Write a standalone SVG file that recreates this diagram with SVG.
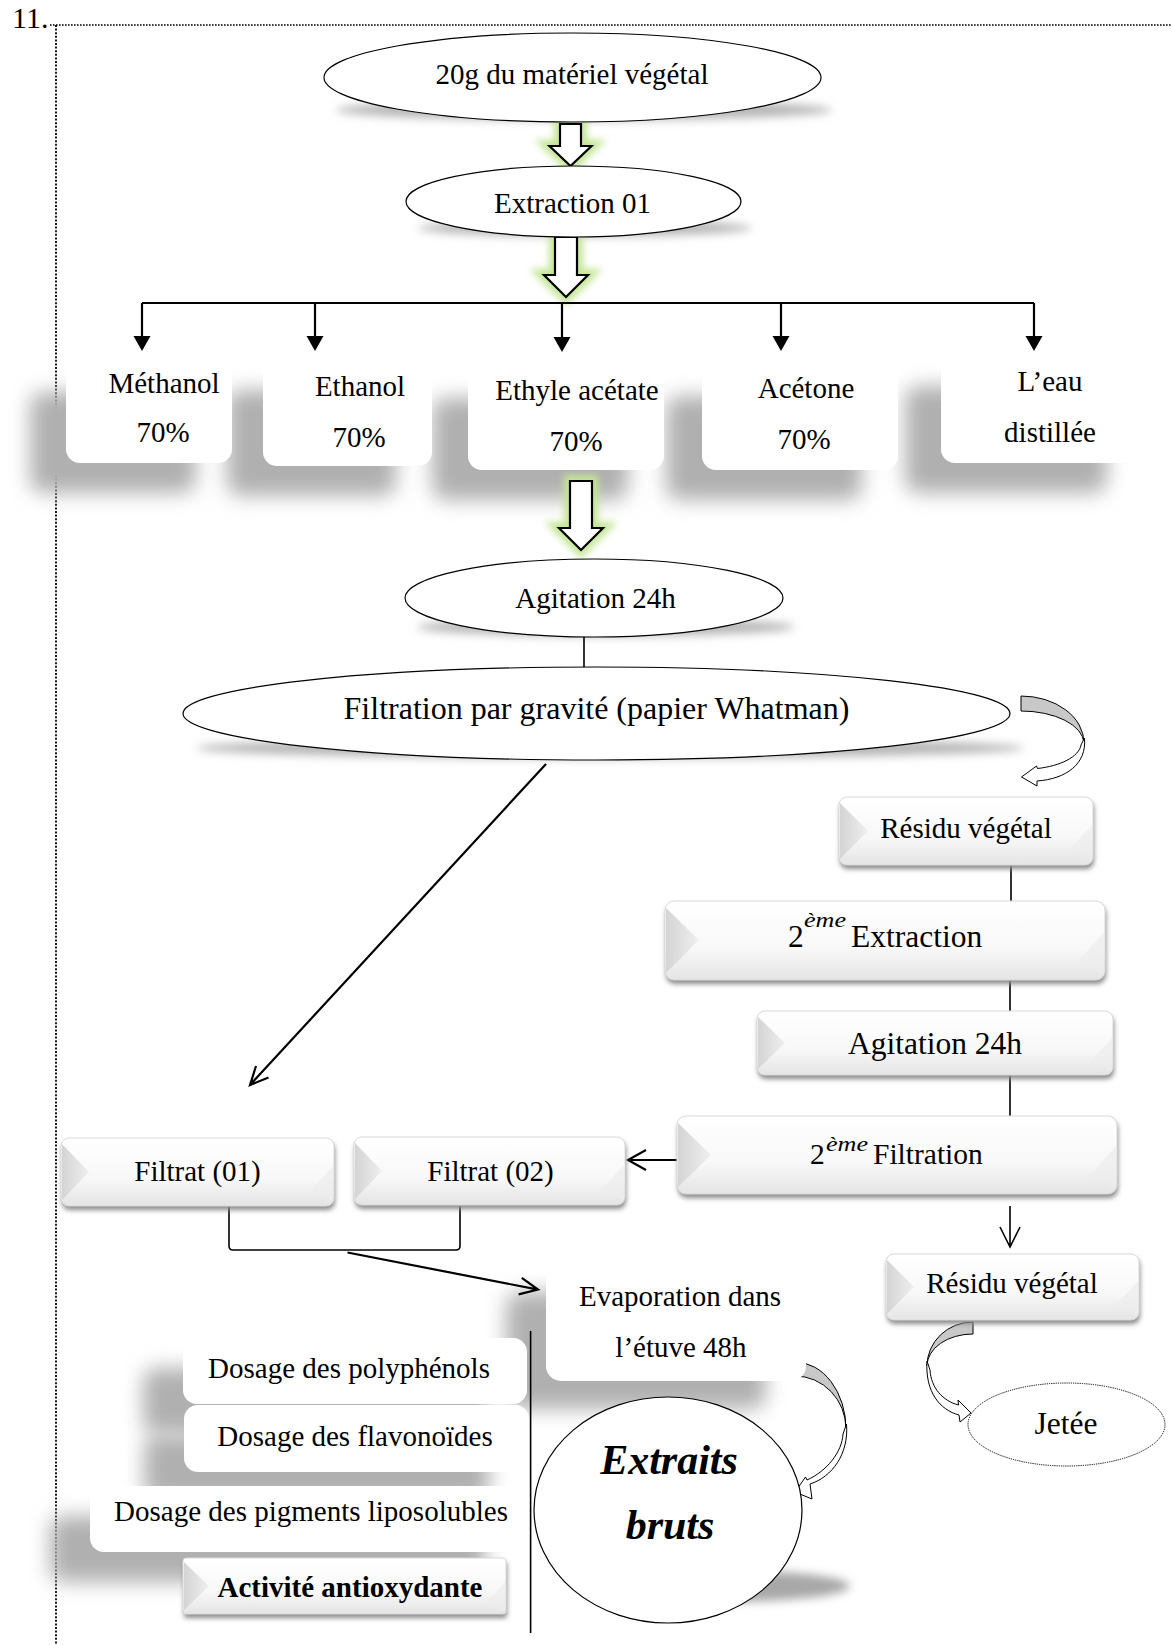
<svg xmlns="http://www.w3.org/2000/svg" width="1172" height="1645" viewBox="0 0 1172 1645">
<defs>
<style>
.t{font-family:"Liberation Serif","Times New Roman",serif;font-size:29px;fill:#000;text-anchor:middle}
.tl{font-family:"Liberation Serif","Times New Roman",serif;fill:#000}
.el{fill:#fff;stroke:#000;stroke-width:1.2}
.elsh{fill:#b4b4b4;filter:url(#fEll)}
.wbox{fill:#fff}
.bigsh{fill:#b0b0b0;filter:url(#fBig)}
.bvsh{fill:#8a8a8a;filter:url(#fSmall)}
.bv{fill:url(#gBevel);stroke:#dadada;stroke-width:1}
.wedgeL{fill:url(#gWedge)}
.wedgeR{fill:#ececec;opacity:.7}
.ln{stroke:#000;fill:none;stroke-width:1.6}
.lnb{stroke:#000;fill:none;stroke-width:2.2}
.blk{fill:#fff;stroke:#000;stroke-width:2.2;stroke-linejoin:miter}
.glow{fill:none;stroke:#c4e596;stroke-width:12;filter:url(#fGlow)}
.curvG{fill:#c8c8c8;stroke:#000;stroke-width:1}
.curvW{fill:#fff;stroke:#000;stroke-width:1}
.sup{font-size:22px;font-style:italic}
.script{font-family:"Liberation Serif","Times New Roman",serif;font-style:italic;font-weight:bold;font-size:42px;fill:#000;text-anchor:middle}
</style>
<filter id="fBig" x="-50%" y="-50%" width="200%" height="200%"><feGaussianBlur stdDeviation="10"/></filter>
<filter id="fEll" x="-20%" y="-200%" width="140%" height="500%"><feGaussianBlur stdDeviation="5"/></filter>
<filter id="fSmall" x="-20%" y="-50%" width="140%" height="200%"><feGaussianBlur stdDeviation="2.5"/></filter>
<filter id="fGlow" x="-100%" y="-50%" width="300%" height="200%"><feGaussianBlur stdDeviation="3.5"/></filter>
<linearGradient id="gBevel" x1="0" y1="0" x2="0" y2="1">
<stop offset="0" stop-color="#ffffff"/><stop offset="0.6" stop-color="#f8f8f8"/><stop offset="1" stop-color="#e4e4e4"/>
</linearGradient>
<linearGradient id="gWedge" x1="0" y1="0" x2="1" y2="0">
<stop offset="0" stop-color="#d4d4d4"/><stop offset="1" stop-color="#efefef"/>
</linearGradient>
</defs>

<rect width="1172" height="1645" fill="#fff"/>

<g id="frame">
<text class="tl" x="12" y="28" style="font-size:30px">11.</text>
<path d="M50,25 H1172" stroke="#000" stroke-width="1.6" stroke-dasharray="1.6 1.4"/>
<path d="M56,25 V1645" stroke="#000" stroke-width="1.8" stroke-dasharray="2 1.6"/>
</g>

<g id="shadows">
<ellipse class="elsh" cx="584" cy="110" rx="248" ry="10"/>
<ellipse class="elsh" cx="585" cy="228" rx="167" ry="8"/>
<ellipse class="elsh" cx="606" cy="627" rx="189" ry="9"/>
<ellipse class="elsh" cx="610" cy="748" rx="414" ry="10"/>
<rect class="bigsh" x="30" y="392" width="166" height="101" rx="14"/>
<rect class="bigsh" x="227" y="390" width="169" height="106" rx="14"/>
<rect class="bigsh" x="432" y="398" width="196" height="102" rx="14"/>
<rect class="bigsh" x="666" y="396" width="196" height="104" rx="14"/>
<rect class="bigsh" x="905" y="386" width="202" height="107" rx="14"/>
<rect class="bigsh" x="506" y="1292" width="260" height="117" rx="15"/>
<rect class="bigsh" x="143" y="1368" width="344" height="66" rx="14"/>
<rect class="bigsh" x="144" y="1435" width="345" height="67" rx="14"/>
<rect class="bigsh" x="50" y="1516" width="435" height="66" rx="14"/>
<ellipse cx="722" cy="1586" rx="128" ry="16" fill="#a8a8a8" filter="url(#fEll)"/>
</g>

<g id="connectors">
<path class="glow" d="M560,124 H581 V146 H591.5 L570.5,166 L549.5,146 H560 Z"/>
<path class="blk" d="M560,124 H581 V146 H591.5 L570.5,166 L549.5,146 H560 Z"/>
<path class="glow" d="M555,237 H577 V275 H588 L566,297 L544,275 H555 Z"/>
<path class="blk" d="M555,237 H577 V275 H588 L566,297 L544,275 H555 Z"/>
<path class="glow" d="M570,481 H592 V528 H603 L581,550 L559,528 H570 Z"/>
<path class="blk" d="M570,481 H592 V528 H603 L581,550 L559,528 H570 Z"/>

<path class="lnb" d="M142,303 H1034 M142,303 V337 M315,303 V337 M562,303 V337 M781,303 V337 M1034,303 V337"/>
<path d="M133.5,336 H150.5 L142,351 Z M306.5,336 H323.5 L315,351 Z M553.5,337 H570.5 L562,352 Z M772.5,336 H789.5 L781,351 Z M1025.5,336 H1042.5 L1034,351 Z" fill="#000"/>

<path class="ln" d="M584,637 V667"/>
<path class="lnb" d="M546,764 L250,1085 M268.5,1077.4 L250,1085 L256,1066"/>

<path class="curvG" d="M1021,696 A63,47 0 0 1 1084,743 A63,33 0 0 0 1021,711 Z"/>
<path class="curvW" d="M1084.5,738 C1087,764 1066,779 1037,781 L1037,786 L1021.5,777 L1036.5,766 L1037.5,768.5 C1060,766 1079,757 1081,745 Z"/>

<path class="ln" d="M1011,865 V901 M1010,980 V1011 M1010,1075 V1116"/>
<path class="lnb" d="M677,1160 H628 M646,1150 L628,1160 L646,1170"/>
<path class="ln" d="M1010,1206 V1246 M1000,1227 L1010,1247 L1020,1227"/>

<path class="ln" d="M229,1206 V1246 Q229,1250 233,1250 H456 Q460,1250 460,1246 V1206"/>
<path class="lnb" d="M347.5,1252.5 L537,1289.4 M521.8,1277.8 L538,1289.6 L518.6,1294.4"/>

<path class="curvG" d="M795,1362 A51,67 0 0 1 846,1429 A51,53 0 0 0 795,1376 Z"/>
<path class="curvW" d="M846.5,1424 C849,1454 832,1477 810,1484 L812,1499 L795,1492 L805.5,1477 L807,1480 C827,1471 842,1452 843,1434 Z"/>

<path class="curvG" d="M973,1322 A46,44 0 0 0 927,1366 A46,32 0 0 1 973,1334 Z"/>
<path class="curvW" d="M927,1361 C925,1392 940,1410 959,1415 L960,1422 L971,1413 L958,1400 L958.5,1405 C943,1401 931,1388 930,1370 Z"/>

<path class="ln" d="M530.6,1331 V1633"/>
</g>

<g id="n-materiel">
<ellipse class="el" cx="572.5" cy="77.5" rx="248.5" ry="44.5"/>
<text class="t" x="572" y="84">20g du matériel végétal</text>
</g>
<g id="n-extraction01">
<ellipse class="el" cx="573.5" cy="201.5" rx="167.5" ry="35.5"/>
<text class="t" x="572.5" y="212.5">Extraction 01</text>
</g>

<g id="n-methanol">
<rect class="wbox" x="66" y="362" width="166" height="101" rx="14"/>
<text class="t" x="164" y="393">Méthanol</text>
<text class="t" x="163" y="442">70%</text>
</g>
<g id="n-ethanol">
<rect class="wbox" x="263" y="360" width="169" height="106" rx="14"/>
<text class="t" x="360" y="396">Ethanol</text>
<text class="t" x="359" y="447">70%</text>
</g>
<g id="n-ethyle">
<rect class="wbox" x="468" y="368" width="196" height="102" rx="14"/>
<text class="t" x="577" y="400">Ethyle acétate</text>
<text class="t" x="576" y="451">70%</text>
</g>
<g id="n-acetone">
<rect class="wbox" x="702" y="366" width="196" height="104" rx="14"/>
<text class="t" x="806" y="398">Acétone</text>
<text class="t" x="804" y="449">70%</text>
</g>
<g id="n-eau">
<rect class="wbox" x="941" y="356" width="202" height="107" rx="14"/>
<text class="t" x="1050" y="391">L’eau</text>
<text class="t" x="1050" y="442">distillée</text>
</g>

<g id="n-agitation1">
<ellipse class="el" cx="594" cy="598" rx="189" ry="39"/>
<text class="t" x="595.5" y="608">Agitation 24h</text>
</g>
<g id="n-filtration">
<ellipse class="el" cx="596.5" cy="713.5" rx="413.5" ry="46.5"/>
<text class="t" x="596.5" y="719" style="font-size:32px">Filtration par gravité (papier Whatman)</text>
</g>

<g id="n-residu1">
<rect class="bvsh" x="840" y="801" width="254" height="68" rx="8"/>
<rect class="bv" x="839" y="797" width="254" height="68" rx="8"/>
<path class="wedgeL" d="M840,803 L868,831 L840,859 Z"/>
<path class="wedgeR" d="M1092,825 L1070,849 L1092,860 Z"/>
<text class="t" x="966" y="838">Résidu végétal</text>
</g>
<g id="n-extraction2">
<rect class="bvsh" x="666" y="905" width="440" height="79" rx="9"/>
<rect class="bv" x="665" y="901" width="440" height="79" rx="9"/>
<path class="wedgeL" d="M666,908 L699,940 L666,973 Z"/>
<path class="wedgeR" d="M1104,932 L1078,962 L1104,975 Z"/>
<text class="tl" style="font-size:31.5px"><tspan x="788" y="946.5">2</tspan><tspan class="sup" x="804" y="927" textLength="42" lengthAdjust="spacingAndGlyphs">ème</tspan><tspan x="851" y="946.5">Extraction</tspan></text>
</g>
<g id="n-agitation2">
<rect class="bvsh" x="758" y="1015" width="356" height="64" rx="8"/>
<rect class="bv" x="757" y="1011" width="356" height="64" rx="8"/>
<path class="wedgeL" d="M758,1017 L785,1043 L758,1069 Z"/>
<path class="wedgeR" d="M1112,1038 L1090,1062 L1112,1071 Z"/>
<text class="t" x="935" y="1054" style="font-size:31.5px">Agitation 24h</text>
</g>
<g id="n-filtration2">
<rect class="bvsh" x="678" y="1120" width="440" height="78" rx="9"/>
<rect class="bv" x="677" y="1116" width="440" height="78" rx="9"/>
<path class="wedgeL" d="M678,1123 L711,1155 L678,1187 Z"/>
<path class="wedgeR" d="M1116,1146 L1090,1176 L1116,1189 Z"/>
<text class="tl" style="font-size:29.5px"><tspan x="810" y="1164">2</tspan><tspan class="sup" x="826" y="1151" textLength="42" lengthAdjust="spacingAndGlyphs">ème</tspan><tspan x="873" y="1164">Filtration</tspan></text>
</g>
<g id="n-filtrat01">
<rect class="bvsh" x="62" y="1142" width="273" height="68" rx="8"/>
<rect class="bv" x="61" y="1138" width="273" height="68" rx="8"/>
<path class="wedgeL" d="M62,1144 L89,1172 L62,1200 Z"/>
<path class="wedgeR" d="M333,1166 L311,1190 L333,1201 Z"/>
<text class="t" x="197.5" y="1181">Filtrat (01)</text>
</g>
<g id="n-filtrat02">
<rect class="bvsh" x="355" y="1141" width="271" height="68" rx="8"/>
<rect class="bv" x="354" y="1137" width="271" height="68" rx="8"/>
<path class="wedgeL" d="M355,1143 L382,1171 L355,1199 Z"/>
<path class="wedgeR" d="M624,1165 L602,1189 L624,1200 Z"/>
<text class="t" x="490.5" y="1181">Filtrat (02)</text>
</g>
<g id="n-residu2">
<rect class="bvsh" x="887" y="1258" width="253" height="66" rx="8"/>
<rect class="bv" x="886" y="1254" width="253" height="66" rx="8"/>
<path class="wedgeL" d="M887,1260 L914,1287 L887,1314 Z"/>
<path class="wedgeR" d="M1138,1281 L1116,1305 L1138,1315 Z"/>
<text class="t" x="1012" y="1293">Résidu végétal</text>
</g>

<g id="n-evaporation">
<rect class="wbox" x="546" y="1264" width="260" height="117" rx="15"/>
<text class="t" x="680" y="1306">Evaporation dans</text>
<text class="t" x="681" y="1357">l’étuve 48h</text>
</g>

<g id="n-polyphenols">
<rect class="wbox" x="183" y="1338" width="344" height="66" rx="14"/>
<text class="t" x="349" y="1378">Dosage des polyphénols</text>
</g>
<g id="n-flavonoides">
<rect class="wbox" x="184" y="1405" width="345" height="67" rx="14"/>
<text class="t" x="355" y="1445.5">Dosage des flavonoïdes</text>
</g>
<g id="n-pigments">
<rect class="wbox" x="90" y="1486" width="435" height="66" rx="14"/>
<text class="t" x="311" y="1521">Dosage des pigments liposolubles</text>
</g>
<g id="n-activite">
<rect class="bvsh" x="184" y="1562" width="323" height="56" rx="3"/>
<rect class="bv" x="183" y="1558" width="323" height="56" rx="3"/>
<path class="wedgeL" d="M184,1562 L209,1586 L184,1610 Z"/>
<path class="wedgeR" d="M505,1582 L485,1604 L505,1611 Z"/>
<text class="t" x="350" y="1597" style="font-weight:bold">Activité antioxydante</text>
</g>

<g id="n-extraits">
<ellipse class="el" cx="668" cy="1510" rx="134" ry="113"/>
<text class="script" x="669" y="1474">Extraits</text>
<text class="script" x="670" y="1539">bruts</text>
</g>

<g id="n-jetee">
<ellipse cx="1066.5" cy="1424.5" rx="98.5" ry="41.5" fill="#fff" stroke="#000" stroke-width="1" stroke-dasharray="1.2 1"/>
<text class="t" x="1066" y="1434" style="font-size:31.5px">Jetée</text>
</g>
</svg>
